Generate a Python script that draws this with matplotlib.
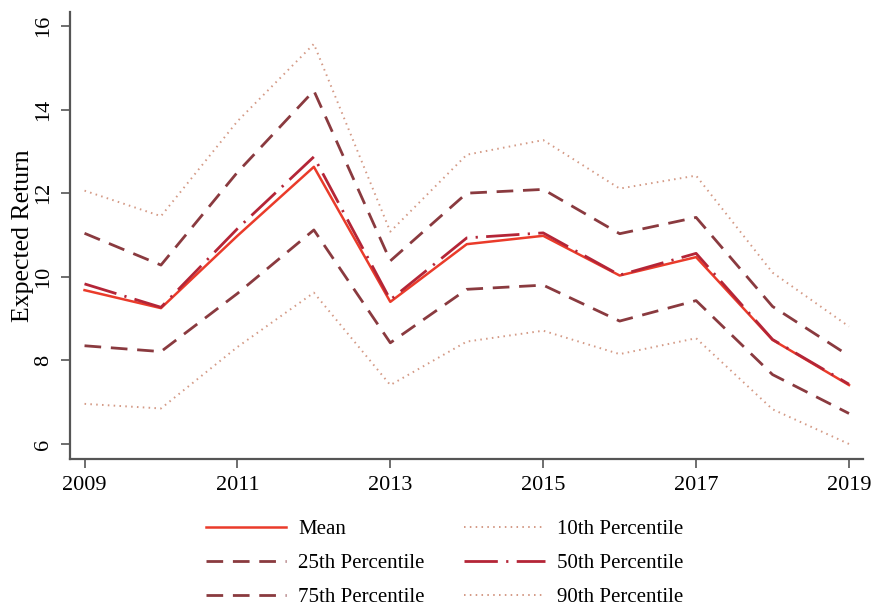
import numpy as np
import matplotlib
matplotlib.use('Agg')
import matplotlib.pyplot as plt

plt.rcParams['font.family'] = ['Liberation Serif', 'DejaVu Serif']

years = [2009, 2010, 2011, 2012, 2013, 2014, 2015, 2016, 2017, 2018, 2019]
mean = [9.68, 9.25, 10.98, 12.63, 9.40, 10.78, 10.98, 10.03, 10.47, 8.49, 7.41]
p10 = [6.96, 6.85, 8.32, 9.62, 7.41, 8.45, 8.71, 8.15, 8.53, 6.83, 6.00]
p25 = [8.35, 8.21, 9.60, 11.12, 8.42, 9.70, 9.80, 8.94, 9.43, 7.66, 6.73]
p50 = [9.83, 9.27, 11.15, 12.87, 9.45, 10.93, 11.05, 10.04, 10.56, 8.50, 7.43]
p75 = [11.04, 10.28, 12.50, 14.45, 10.38, 12.00, 12.09, 11.03, 11.42, 9.29, 8.11]
p90 = [12.06, 11.45, 13.72, 15.57, 11.08, 12.92, 13.27, 12.11, 12.42, 10.10, 8.81]

c_mean = '#ea3b2a'
c_50 = '#b42537'
c_q = '#8a3a3f'
c_d = '#d49a86'

fig = plt.figure(figsize=(8.75, 6.08), dpi=100)
ax = fig.add_axes([0.08, 0.245, 0.906, 0.735])

ax.plot(years, mean, color=c_mean, lw=1.8, label='Mean')
ax.plot(years, p25, color=c_q, lw=2.0, dashes=(6, 3.5), label='25th Percentile')
ax.plot(years, p75, color=c_q, lw=2.0, dashes=(6, 3.5), label='75th Percentile')
ax.plot(years, p10, color=c_d, lw=1.4, dashes=(0.8, 2.2), label='10th Percentile')
ax.plot(years, p50, color=c_50, lw=2.0, dashes=(12, 3, 0.8, 3), label='50th Percentile')
ax.plot(years, p90, color=c_d, lw=1.4, dashes=(0.8, 2.2), label='90th Percentile')

ax.set_xlim(2008.81, 2019.18)
ax.set_ylim(5.64, 16.33)
ax.set_xticks([2009, 2011, 2013, 2015, 2017, 2019])
ax.set_yticks([6, 8, 10, 12, 14, 16])
ax.tick_params(axis='both', labelsize=16, direction='out', length=6.5, width=1.2,
               color='#555555', pad=6)
plt.setp(ax.get_yticklabels(), rotation=90, va='center')
ax.set_ylabel('Expected Return', fontsize=18.5, labelpad=0)
for s in ['top', 'right']:
    ax.spines[s].set_visible(False)
for s in ['left', 'bottom']:
    ax.spines[s].set_color('#555555')
    ax.spines[s].set_linewidth(1.6)

leg = fig.legend(loc='lower center', bbox_to_anchor=(0.508, -0.03), ncol=2, frameon=False,
                 fontsize=15, handlelength=3.85, columnspacing=1.9, labelspacing=0.7,
                 handletextpad=0.6)

plt.savefig('out.png', dpi=100)
plt.close(fig)
